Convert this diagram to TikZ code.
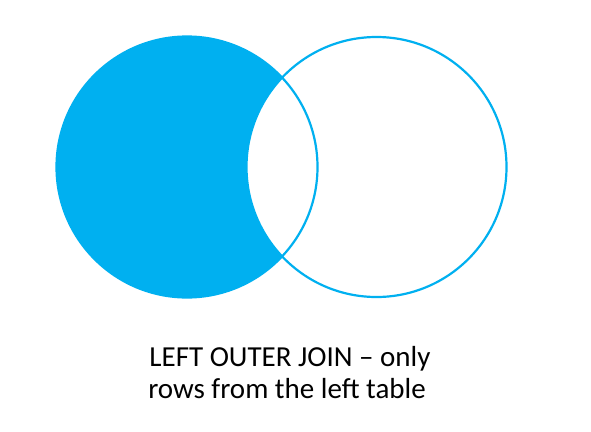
\documentclass[tikz,border=0pt]{standalone}
\usepackage{fontspec}
\setmainfont{Carlito}
\definecolor{venn}{HTML}{00B0F0}
\begin{document}
\begin{tikzpicture}[x=1pt,y=-1pt,
  ring/.style={draw=venn,line width=2.2pt},
  caption/.style={anchor=base,inner sep=0pt,font=\fontsize{29}{32}\selectfont,text=black}]
\useasboundingbox[fill=white] (0,0) rectangle (591,431);
\coordinate (L) at (187,167);
\coordinate (R) at (376.5,167);
% left set filled
\fill[venn] (L) circle[radius=130.5];
% intersection blank
\begin{scope}
  \clip (L) circle[radius=130.5];
  \fill[white] (R) circle[radius=130];
\end{scope}
\draw[ring] (L) circle[radius=130.5];
\draw[ring] (R) circle[radius=130];
\node[caption] (t1) at (290,366) {LEFT OUTER JOIN – only};
\node[caption] (t2) at (287,398) {rows from the left table};
\end{tikzpicture}
\end{document}
